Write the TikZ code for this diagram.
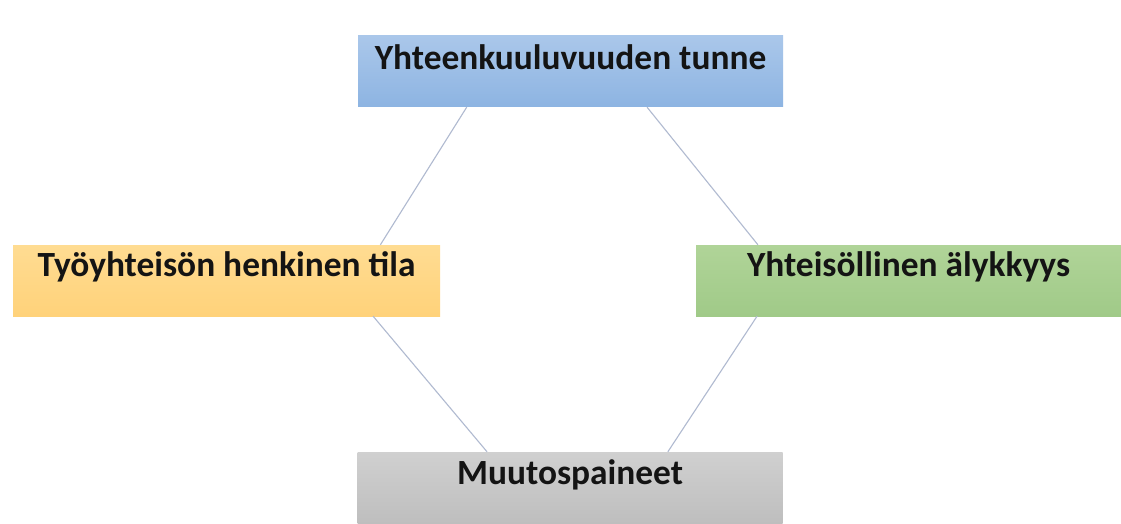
\documentclass[tikz,border=0pt]{standalone}
\usepackage{fontspec}
\setmainfont{Carlito}
\usetikzlibrary{calc}
\definecolor{bluetop}{RGB}{170,199,234}
\definecolor{bluebot}{RGB}{141,180,226}
\definecolor{orangetop}{RGB}{255,220,146}
\definecolor{orangebot}{RGB}{255,210,122}
\definecolor{greentop}{RGB}{176,212,152}
\definecolor{greenbot}{RGB}{160,202,136}
\definecolor{graytop}{RGB}{208,208,208}
\definecolor{graybot}{RGB}{190,190,190}
\definecolor{linkcol}{RGB}{176,186,208}
\tikzset{
  box/.style={rectangle, draw=none, minimum width=425pt, minimum height=71pt, inner sep=0pt},
  lbl/.style={anchor=base, inner sep=0pt, font=\fontsize{35.4}{42}\selectfont\bfseries, text=black!92},
  link/.style={draw=linkcol, line width=1.1pt}
}
\begin{document}
\begin{tikzpicture}[x=1pt,y=1pt]
\useasboundingbox (0,0) rectangle (1121,523);
\fill[white] (0,0) rectangle (1121,523);
% boxes
\node[box, top color=bluetop, bottom color=bluebot] (top) at (570.5,451.5) {};
\node[box, top color=orangetop, bottom color=orangebot, minimum width=427pt] (left) at (226.5,242.5) {};
\node[box, top color=greentop, bottom color=greenbot] (right) at (908.5,242.5) {};
\node[box, top color=graytop, bottom color=graybot] (bottom) at (570,35.5) {};
% labels
\node[lbl] (ttop) at ($(top.north)+(0,-34)$) {Yhteenkuuluvuuden tunne};
\node[lbl] (tleft) at ($(left.north)+(0,-32)$) {Työyhteisön henkinen tila};
\node[lbl] (tright) at ($(right.north)+(0,-32)$) {Yhteisöllinen älykkyys};
\node[lbl] (tbottom) at ($(bottom.north)+(0,-33)$) {Muutospaineet};
% connector end points
\coordinate (tA) at ($(top.south west)!0.256!(top.south east)$);
\coordinate (tB) at ($(top.south west)!0.68!(top.south east)$);
\coordinate (lA) at ($(left.north west)!0.86!(left.north east)$);
\coordinate (lB) at ($(left.south west)!0.843!(left.south east)$);
\coordinate (rA) at ($(right.north west)!0.146!(right.north east)$);
\coordinate (rB) at ($(right.south west)!0.144!(right.south east)$);
\coordinate (bA) at ($(bottom.north west)!0.305!(bottom.north east)$);
\coordinate (bB) at ($(bottom.north west)!0.73!(bottom.north east)$);
% connectors
\draw[link] (tA) -- (lA);
\draw[link] (tB) -- (rA);
\draw[link] (lB) -- (bA);
\draw[link] (rB) -- (bB);
\end{tikzpicture}
\end{document}
